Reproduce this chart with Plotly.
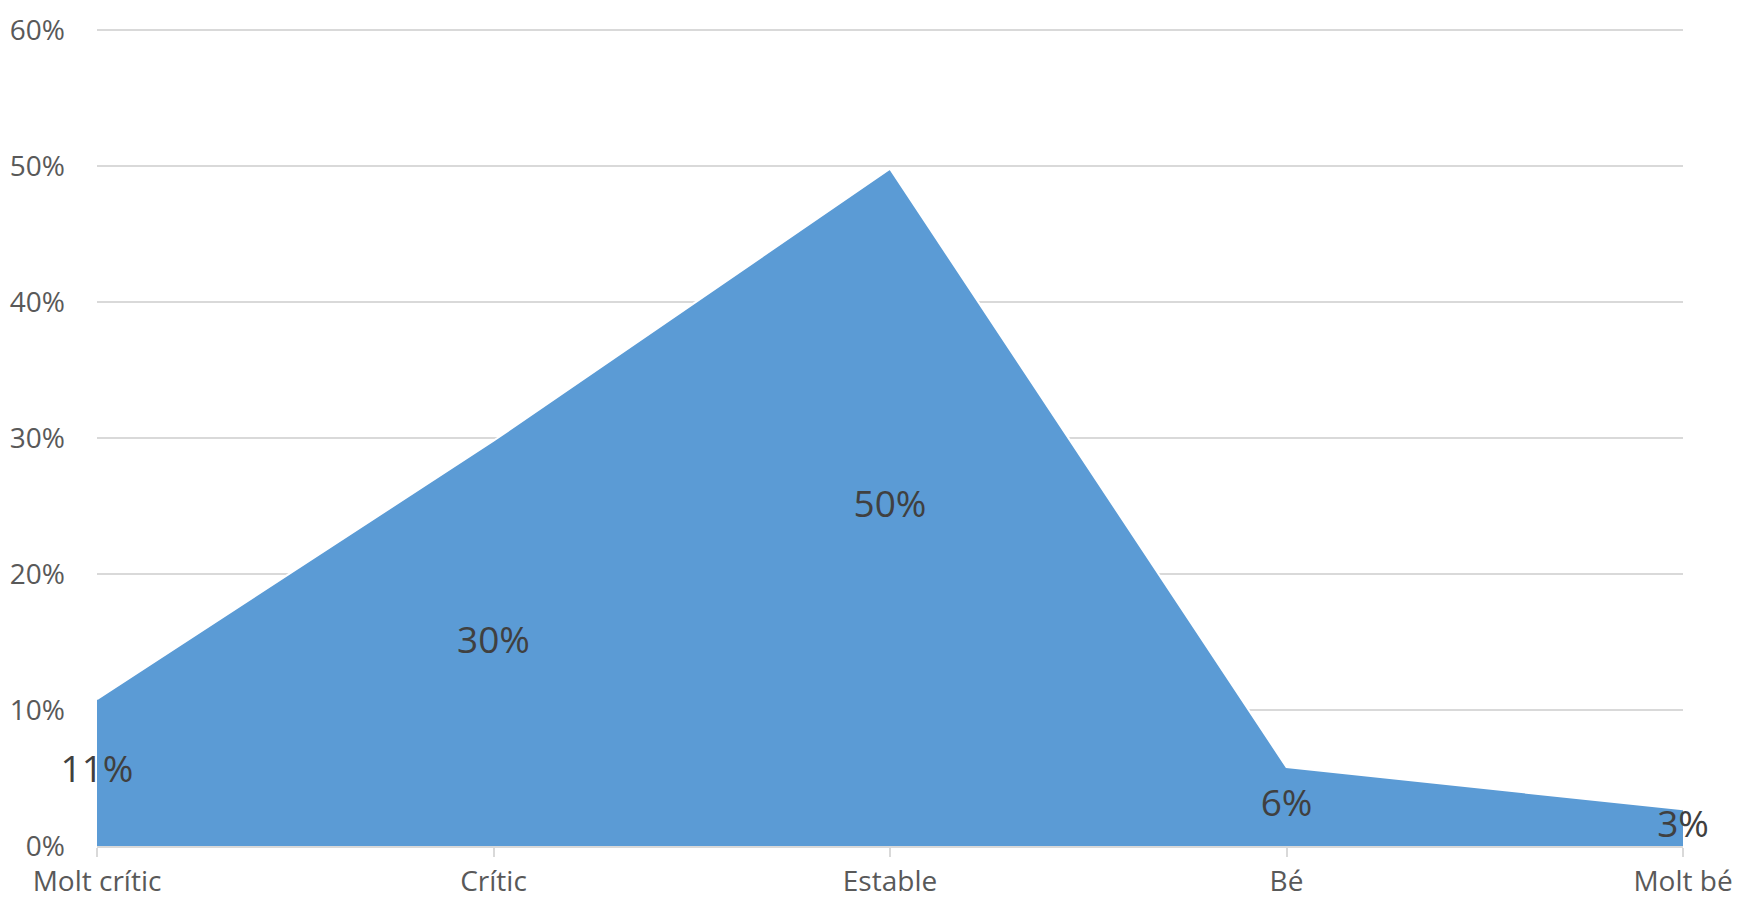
import plotly.graph_objects as go

categories = ["Molt crític", "Crític", "Estable", "Bé", "Molt bé"]
values = [0.108, 0.298, 0.498, 0.058, 0.027]
y_ticks = [0, 0.1, 0.2, 0.3, 0.4, 0.5, 0.6]

FONT = "Open Sans, Noto Sans, sans-serif"

fig = go.Figure()
fig.add_trace(go.Scatter(
    x=categories, y=values, mode="lines", fill="tozeroy",
    line=dict(width=2, color="white"), fillcolor="#5B9BD5",
    hoverinfo="skip", showlegend=False,
))
fig.add_trace(go.Scatter(
    x=categories, y=[v / 2 for v in values], mode="text",
    text=[f"{round(v * 100)}%" for v in values],
    textposition="middle center",
    textfont=dict(family=FONT, size=37, color="#404040"),
    cliponaxis=False, hoverinfo="skip", showlegend=False,
))

fig.update_layout(
    width=1739, height=900,
    margin=dict(l=97, r=56, t=28, b=54, autoexpand=False),
    paper_bgcolor="white", plot_bgcolor="white",
    font=dict(family=FONT, color="#595959"),
    xaxis=dict(
        type="category", categoryorder="array", categoryarray=categories,
        range=[0, len(categories) - 1], automargin=False,
        showgrid=False, zeroline=False,
        showline=True, linecolor="#D9D9D9", linewidth=1.5,
        ticks="outside", ticklen=9, tickcolor="#D9D9D9", tickwidth=1.5,
        tickfont=dict(size=28, color="#595959"),
        ticklabelstandoff=1,
    ),
    yaxis=dict(
        range=[0, 0.6015], tickvals=y_ticks, tickformat=".0%",
        automargin=False,
        showgrid=True, gridcolor="#D9D9D9", gridwidth=1.5,
        zeroline=False, showline=False,
        tickfont=dict(size=28, color="#595959"),
        ticklabelstandoff=31,
    ),
)

fig.write_html(
    "out.html",
    config={"displayModeBar": False},
    post_script="document.body.style.margin='0';document.body.style.overflow='hidden';",
)
